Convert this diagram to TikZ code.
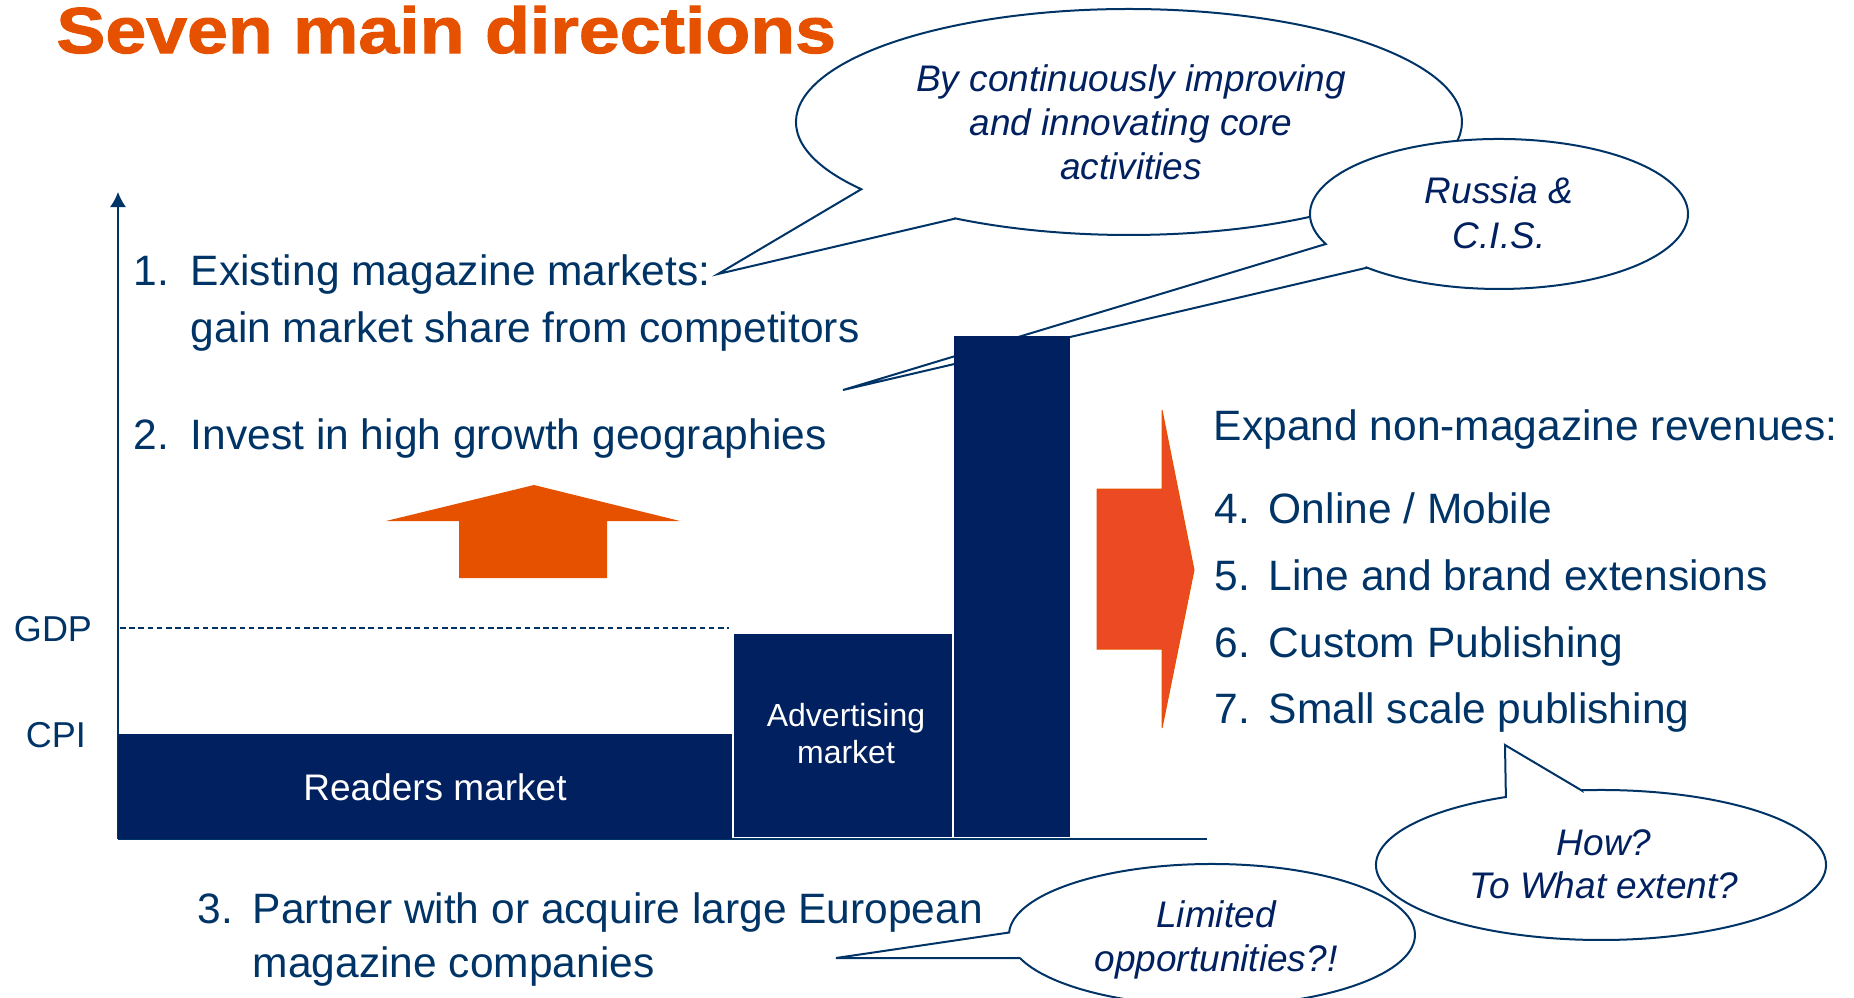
\documentclass[tikz,border=0pt]{standalone}
\usepackage{fontspec}
\setmainfont{Liberation Sans}
\newfontfamily\titlefont{Liberation Sans}[FakeStretch=1.13,FakeBold=1.6]
\usetikzlibrary{arrows.meta}

\definecolor{navy}{RGB}{0,32,96}
\definecolor{ink}{RGB}{0,51,102}
\definecolor{titleorange}{RGB}{230,81,0}
\definecolor{arroworange}{RGB}{236,74,34}

\tikzset{
	bubble/.style={draw=ink, line width=1pt, fill=white},
	bar/.style={fill=navy},
	axis/.style={draw=ink, line width=0.8pt},
	item/.style={text=ink, font=\fontsize{21.25}{25}\selectfont, inner sep=0pt, anchor=base west},
	note/.style={text=navy, font=\itshape\fontsize{18.5}{22}\selectfont, inner sep=0pt, anchor=base},
	barlabel/.style={text=white, font=\fontsize{18.5}{22}\selectfont, inner sep=0pt, anchor=base},
	axislabel/.style={text=ink, font=\fontsize{18}{22}\selectfont, inner sep=0pt, anchor=base}
}

\begin{document}
\begin{tikzpicture}[x=0.5pt,y=-0.5pt]
	\useasboundingbox (0,0) rectangle (1854,997);
	\clip (0,0) rectangle (1854,997);

	\node[anchor=base west, inner sep=0pt, text=titleorange, font=\titlefont\bfseries\fontsize{32.5}{36}\selectfont] (title) at (56,53) {Seven main directions};

	% speech bubbles: tail first, then the rest of the ellipse
	\draw[bubble] (955.5,218.5) -- (718,274) -- (861.3,189.2) arc[start angle=143.5, end angle=481.4, x radius=333, y radius=113] -- cycle;
	\draw[bubble] (1367,267.7) -- (843,390) -- (1325.8,244) arc[start angle=156.4, end angle=494.3, x radius=189, y radius=75] -- cycle;
	\draw[bubble] (1020.1,958.1) -- (836,958) -- (1009.1,932.5) arc[start angle=182, end angle=521, x radius=203, y radius=71] -- cycle;
	\draw[bubble] (1581.4,790.3) -- (1505,745) -- (1505.9,797) arc[start angle=245, end angle=-95, x radius=225, y radius=75] -- cycle;

	\node[note] (core1) at (1131,91) {By continuously improving};
	\node[note] (core2) at (1131,135) {and innovating core};
	\node[note] (core3) at (1131,179) {activities};
	\node[note] (cis1) at (1499,203) {Russia \&};
	\node[note] (cis2) at (1499,248) {C.I.S.};
	\node[note] (lim1) at (1216,927) {Limited};
	\node[note] (lim2) at (1216,971) {opportunities?!};
	\node[note] (how1) at (1604,855) {How?};
	\node[note] (how2) at (1604,898) {To What extent?};

	% axes and the GDP level
	\coordinate (origin) at (118,839);
	\coordinate (top) at (118,192);
	\coordinate (axisend) at (1207,839);
	\draw[axis, -{Latex[length=7.5pt,width=8pt]}] (origin) -- (top);
	\draw[axis] (origin) -- (axisend);
	\draw[ink, line width=1.1pt, dash pattern=on 2.8pt off 1.8pt] (120,628) -- (729,628);

	\fill[bar] (118,734) rectangle (732,839);
	\fill[bar] (734,634) rectangle (952,837);
	\fill[bar] (954,336) rectangle (1070,837);

	\node[axislabel] (gdp) at (53,641) {GDP};
	\node[axislabel] (cpi) at (56,747) {CPI};
	\node[barlabel] (readers) at (435,800) {Readers market};
	\node[barlabel, font=\fontsize{16}{19}\selectfont] (adv1) at (846,726) {Advertising};
	\node[barlabel, font=\fontsize{16}{19}\selectfont] (adv2) at (846,763) {market};

	% growth arrows
	\fill[titleorange] (386,521) -- (534,485) -- (680,521) -- (607,521) -- (607,578) -- (459,578) -- (459,521) -- cycle;
	\filldraw[fill=arroworange, draw=titleorange, line width=0.5pt] (1097,489) -- (1162,489) -- (1162,410) -- (1194,570) -- (1162,728) -- (1162,649) -- (1097,649) -- cycle;

	\node[item] (n1) at (133,285) {1.};
	\node[item] (d1) at (190.5,285) {Existing magazine markets:};
	\node[item] (d1b) at (190.5,342) {gain market share from competitors};
	\node[item] (n2) at (133,449) {2.};
	\node[item] (d2) at (190.5,449) {Invest in high growth geographies};
	\node[item] (n3) at (197,923) {3.};
	\node[item] (d3) at (252.5,923) {Partner with or acquire large European};
	\node[item] (d3b) at (252.5,977) {magazine companies};

	\node[item] (expand) at (1213.5,440) {Expand non-magazine revenues:};
	\node[item] (n4) at (1214,523) {4.};
	\node[item] (d4) at (1268.5,523) {Online / Mobile};
	\node[item] (n5) at (1214,590) {5.};
	\node[item] (d5) at (1268.5,590) {Line and brand extensions};
	\node[item] (n6) at (1214,657) {6.};
	\node[item] (d6) at (1268.5,657) {Custom Publishing};
	\node[item] (n7) at (1214,723) {7.};
	\node[item] (d7) at (1268.5,723) {Small scale publishing};
\end{tikzpicture}
\end{document}
